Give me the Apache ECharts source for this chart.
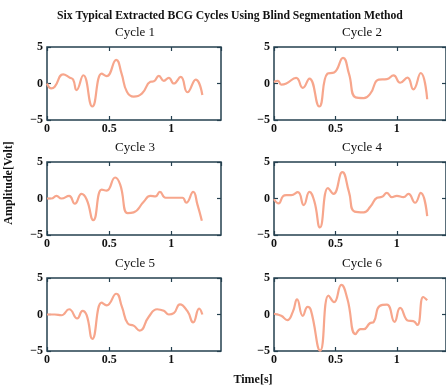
<!DOCTYPE html>
<html><head><meta charset="utf-8">
<script src="https://cdn.jsdelivr.net/npm/echarts@6/dist/echarts.min.js"></script>
<style>html,body{margin:0;padding:0;background:#fff}#c{width:446px;height:385px}</style>
</head><body><div id="c"></div>
<script>
var mainTitle = "Six Typical Extracted BCG Cycles Using Blind Segmentation Method";
var cycleNames = ["Cycle 1","Cycle 2","Cycle 3","Cycle 4","Cycle 5","Cycle 6"];
var xLabel = "Time[s]";
var yLabel = "Amplitude[Volt]";
var xTicks = [0, 0.5, 1];
var yTicks = [-5, 0, 5];

var t1 = [0,0.035,0.062,0.13,0.184,0.21,0.238,0.292,0.365,0.44,0.48,0.557,0.60,0.643,0.697,0.765,0.832,0.86,0.9,0.94,0.98,1.02,1.076,1.13,1.197,1.25];
var v1 = [0,-0.68,-0.45,1.26,0.8,0.54,-0.9,1.13,-3.15,1.35,1.0,3.24,1.35,-1.13,-1.8,-1.35,0.23,0.3,1.04,0.36,0.77,0,0.9,-1.2,0.54,-1.58];

var t2 = [0,0.032,0.059,0.1,0.18,0.234,0.288,0.368,0.435,0.489,0.562,0.61,0.664,0.731,0.785,0.852,0.919,0.973,1.027,1.086,1.134,1.194,1.247];
var v2 = [0.2,0.36,-0.15,0,0.77,-0.6,0.68,-3.15,1.35,1.5,3.5,1.35,-1.9,-2.0,-1.35,0.54,0.6,1.1,0.1,0.8,-0.8,1.44,-2.16];

var t3 = [0,0.035,0.076,0.116,0.178,0.224,0.278,0.319,0.373,0.44,0.48,0.549,0.589,0.649,0.697,0.778,0.832,0.873,0.908,0.954,1.02,1.09,1.12,1.176,1.21,1.246];
var v3 = [0,0,0.36,0,0.36,-0.72,0.63,-0.13,-2.97,1.22,1.08,2.88,1.9,-2.0,-1.9,-0.45,0.36,0.3,0.9,0.1,0.1,0.1,-0.58,0.9,-0.8,-3.06];

var t4 = [0,0.038,0.073,0.1,0.14,0.194,0.242,0.288,0.328,0.374,0.44,0.484,0.556,0.61,0.656,0.731,0.785,0.839,0.879,0.919,0.96,1.0,1.054,1.094,1.148,1.194,1.247];
var v4 = [-0.1,-0.68,0.3,0.45,0.45,0.86,-0.9,0.9,-0.36,-3.96,1.44,0.63,3.6,0.9,-1.8,-1.9,-1.1,0.1,0.23,0.77,0.18,0.36,0.18,0.63,-0.58,0.77,-2.4];

var t5 = [0,0.062,0.116,0.178,0.243,0.286,0.319,0.365,0.44,0.48,0.557,0.603,0.649,0.697,0.746,0.819,0.886,0.94,0.98,1.02,1.07,1.13,1.176,1.224,1.25];
var v5 = [0,0,-0.1,0.72,-0.54,0.5,-0.1,-3.33,1.62,1.26,2.84,1.04,-1.2,-1.53,-2.2,-0.3,0.72,0.5,0,0.18,1.4,0.45,-1.08,0.81,0];

var t6 = [0,0.059,0.108,0.153,0.188,0.234,0.274,0.3,0.376,0.444,0.489,0.548,0.597,0.664,0.704,0.731,0.78,0.812,0.86,0.919,0.981,1.027,1.094,1.134,1.167,1.215,1.247];
var v6 = [0.1,-0.18,-0.77,0.36,2.07,-0.18,1.04,0.6,-4.95,2.6,1.7,4.05,2.16,-2.7,-2.0,-2.0,-1.2,-1.0,1.17,1.35,-1.0,0.9,-0.86,-0.9,-1.44,2.4,1.94];

var times = [t1,t2,t3,t4,t5,t6];
var values = [v1,v2,v3,v4,v5,v6];

var axisColor = '#24404f';
var lineColor = '#f7a68c';
var font = '"Liberation Serif","DejaVu Serif",serif';
var lefts = [47, 274];
var tops = [47, 162, 278];
var W = 174, H = 73;

var grids = [], xAxes = [], yAxes = [], series = [], graphics = [];
for (var i = 0; i < 6; i++) {
  var col = i % 2, row = Math.floor(i / 2);
  grids.push({left: lefts[col], top: tops[row], width: W, height: H, show: true,
    borderColor: axisColor, borderWidth: 1.5, backgroundColor: 'transparent'});
  var tick = {show: true, inside: true, length: 4, lineStyle: {color: axisColor, width: 1.2}};
  var line = {show: false, onZero: false};
  xAxes.push({type: 'value', gridIndex: i, position: 'bottom', min: 0, max: 1.4, interval: 0.5,
    axisLine: line, axisTick: tick, splitLine: {show: false},
    axisLabel: {show: true, showMaxLabel: false, margin: 3, color: '#111', fontFamily: font, fontWeight: 'bold', fontSize: 12,
      formatter: function (v) { return xTicks.indexOf(v) >= 0 ? String(v) : ''; }}});
  xAxes.push({type: 'value', gridIndex: i, position: 'top', min: 0, max: 1.4, interval: 0.5,
    axisLine: line, axisTick: tick, splitLine: {show: false}, axisLabel: {show: false}});
  yAxes.push({type: 'value', gridIndex: i, position: 'left', min: -5, max: 5, interval: 5,
    axisLine: line, axisTick: tick, splitLine: {show: false},
    axisLabel: {show: true, margin: 4, color: '#111', fontFamily: font, fontWeight: 'bold', fontSize: 12,
      formatter: function (v) { return yTicks.indexOf(v) >= 0 ? String(v).replace('-', '\u2212') : ''; }}});
  yAxes.push({type: 'value', gridIndex: i, position: 'right', min: -5, max: 5, interval: 5,
    axisLine: line, axisTick: tick, splitLine: {show: false}, axisLabel: {show: false}});
  var d = times[i].map(function (t, k) { return [t, values[i][k]]; });
  series.push({type: 'line', xAxisIndex: 2 * i, yAxisIndex: 2 * i, data: d, smooth: 0.5,
    showSymbol: false, lineStyle: {color: lineColor, width: 2.2}, silent: true, z: 3});
  graphics.push({type: 'text', left: lefts[col] + W / 2 - 19, top: tops[row] - 21,
    style: {text: cycleNames[i], font: '13px ' + font, fill: '#111', textAlign: 'center'}});
}
graphics.push({type: 'text', left: 57, top: 10, style: {text: mainTitle, font: 'bold 11.7px ' + font, fill: '#111'}});
graphics.push({type: 'text', x: 253, y: 374, style: {text: xLabel, font: 'bold 12px ' + font, fill: '#111', textAlign: 'center'}});
graphics.push({type: 'text', x: 9, y: 183, rotation: Math.PI / 2, style: {text: yLabel, font: 'bold 12px ' + font, fill: '#111', textAlign: 'center', textVerticalAlign: 'middle'}});

var chart = echarts.init(document.getElementById('c'), null, {renderer: 'canvas'});
chart.setOption({animation: false, backgroundColor: '#fff', grid: grids, xAxis: xAxes, yAxis: yAxes, series: series, graphic: graphics});
</script></body></html>
